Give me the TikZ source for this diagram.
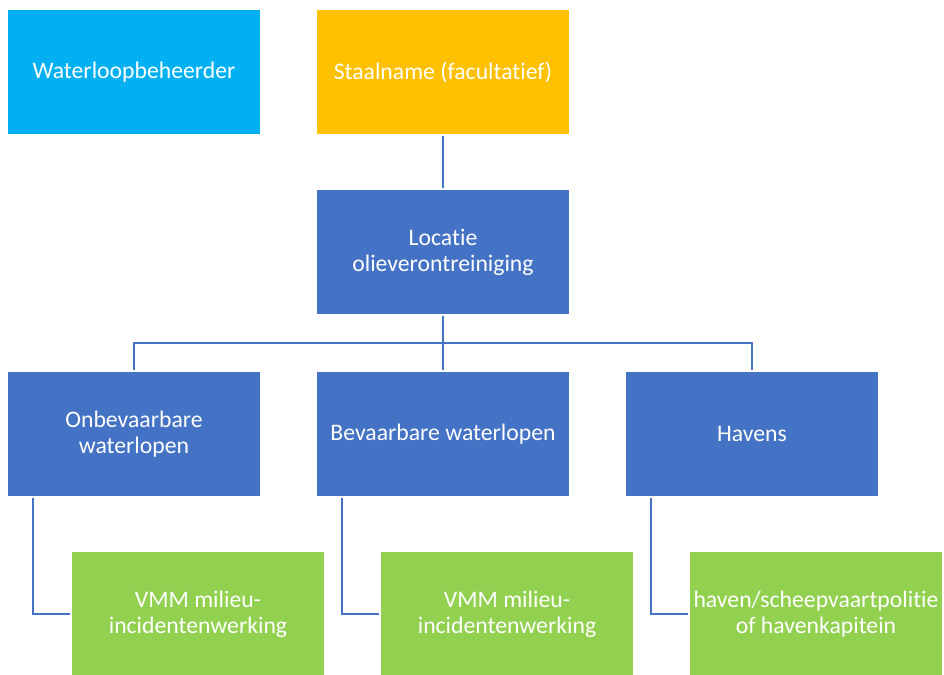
\documentclass[tikz,border=0pt]{standalone}
\usepackage{fontspec}
\setmainfont{Carlito}[Ligatures=NoCommon]
\usepackage{tikz}
\usetikzlibrary{positioning}
\definecolor{cyanbox}{HTML}{00B0F0}
\definecolor{orangebox}{HTML}{FFC000}
\definecolor{bluebox}{HTML}{4472C4}
\definecolor{greenbox}{HTML}{92D050}
\tikzset{
    box/.style={draw=none, text=white, align=center, inner sep=0pt,
        minimum width=5.04cm, minimum height=2.48cm,
        font=\fontsize{13.5}{14.7}\selectfont},
    beheer/.style={box, fill=cyanbox},
    staal/.style={box, fill=orangebox},
    niveau/.style={box, fill=bluebox},
    dienst/.style={box, fill=greenbox},
    link/.style={draw=bluebox, line width=1.3pt, shorten >=1pt, shorten <=1pt}
}
\begin{document}
\begin{tikzpicture}[x=0.02cm,y=-0.02cm]
	\useasboundingbox (0,0) rectangle (944,675);
	\node[beheer] (wlb) at (134,72) {Waterloopbeheerder};
	\node[staal] (stn) at (443,72) {Staalname (facultatief)};
	\node[niveau] (loc) at (443,252) {Locatie\\olieverontreiniging};
	\node[niveau] (onb) at (134,434) {Onbevaarbare\\waterlopen};
	\node[niveau] (bev) at (443,434) {Bevaarbare waterlopen};
	\node[niveau] (hav) at (752,434) {Havens};
	\node[dienst] (vmma) at (198,614) {VMM milieu-\\incidentenwerking};
	\node[dienst] (vmmb) at (507,614) {VMM milieu-\\incidentenwerking};
	\node[dienst] (hkap) at (816,614) {haven/scheepvaartpolitie\\of havenkapitein};
	\coordinate (bus) at (443,343);
	% boom
	\draw[link] (stn.south) -- (loc.north);
	\draw[link, shorten >=0pt] (loc.south) -- (bus);
	\draw[link, shorten <=0pt] (bus) -| (onb.north);
	\draw[link, shorten <=0pt] (bus) -| (hav.north);
	\draw[link, shorten <=0pt] (bus) -- (bev.north);
	% uitvoerders
	\draw[link] ([xshift=0.5cm]onb.south west) |- (vmma.west);
	\draw[link] ([xshift=0.5cm]bev.south west) |- (vmmb.west);
	\draw[link] ([xshift=0.5cm]hav.south west) |- (hkap.west);
\end{tikzpicture}
\end{document}
